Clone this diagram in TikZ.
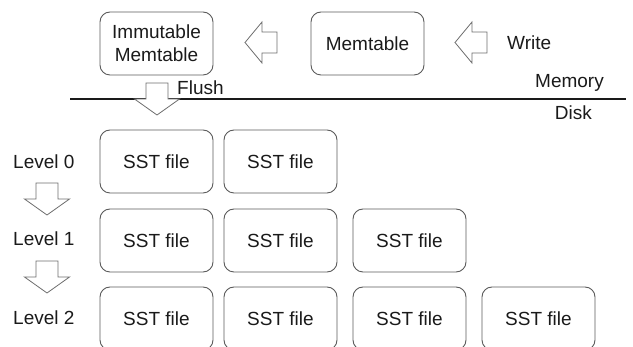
\documentclass[tikz,border=0pt]{standalone}
\usepackage{fontspec}
\setmainfont{Liberation Sans}
\usepackage{tikz}
\definecolor{boxline}{HTML}{5A5A5A}
\definecolor{arrline}{HTML}{6E6E6E}
\definecolor{ink}{HTML}{1A1A1A}
\tikzset{
  table/.style={draw=boxline,line width=0.9pt,rounded corners=10pt,
    minimum width=113pt,minimum height=63pt,inner sep=0pt,
    align=center,text=ink},
  label/.style={inner sep=0pt,text=ink},
  blk/.style={draw=arrline,fill=white,line width=0.8pt,line join=miter},
  pics/downblk/.style={code={
    \draw[blk] (-11,0) -- (11,0) -- (11,16) -- (22.5,16) -- (0,32)
      -- (-22.5,16) -- (-11,16) -- cycle;}},
  pics/leftblk/.style={code={
    \draw[blk] (0,-10.5) -- (0,10.5) -- (-15,10.5) -- (-15,20.5) -- (-32,0)
      -- (-15,-20.5) -- (-15,-10.5) -- cycle;}}
}
\begin{document}
\begin{tikzpicture}[x=1pt,y=-1pt,font=\fontsize{19}{23}\selectfont]
    \useasboundingbox (0,0) rectangle (633,347);
    % memory part
    \draw
    (156.5,43.5) node[table](imm) {Immutable\\Memtable}
    (367.5,43.5) node[table](mem) {Memtable}
    (507,43) node[label,anchor=west](write) {Write}
    (604,83) node[label,anchor=east](memory) {Memory}
    (592,113) node[label,anchor=east](disk) {Disk}
    (177,88) node[label,anchor=west](flush) {Flush};
    \pic at (277,42.5) {leftblk};
    \pic at (487,42.5) {leftblk};
    % memory / disk border
    \draw[line width=1.8pt,ink] (70,99) -- (626,99);
    \pic at (157,83) {downblk};
    % levels
    \draw
    (13,162) node[label,anchor=west](lvl0) {Level 0}
    (13,239) node[label,anchor=west](lvl1) {Level 1}
    (13,318) node[label,anchor=west](lvl2) {Level 2};
    \pic at (47,183) {downblk};
    \pic at (47,261) {downblk};
    % sst files
    \draw
    (156.5,161.5) node[table](sst00) {SST file}
    (280.5,161.5) node[table](sst01) {SST file}
    (156.5,240.5) node[table](sst10) {SST file}
    (280.5,240.5) node[table](sst11) {SST file}
    (409.5,240.5) node[table](sst12) {SST file}
    (156.5,318.5) node[table](sst20) {SST file}
    (280.5,318.5) node[table](sst21) {SST file}
    (409.5,318.5) node[table](sst22) {SST file}
    (538.5,318.5) node[table](sst23) {SST file};
  \end{tikzpicture}
\end{document}
